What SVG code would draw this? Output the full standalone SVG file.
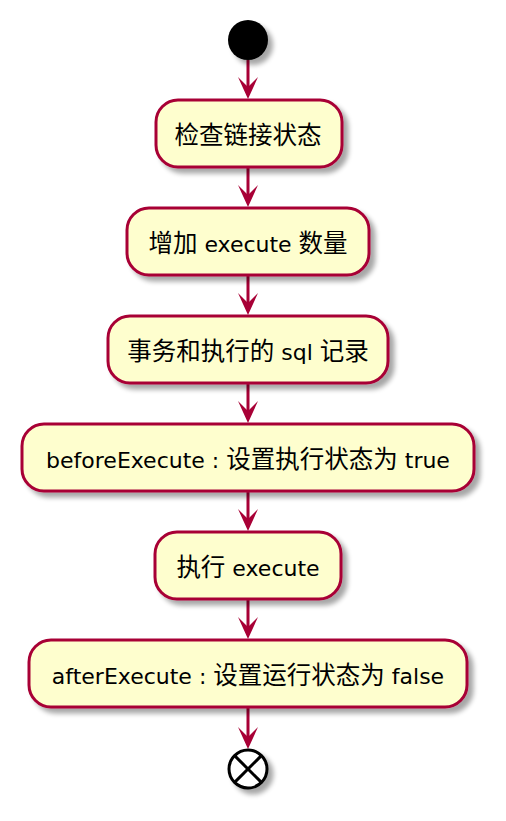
<svg xmlns="http://www.w3.org/2000/svg" width="506" height="821" viewBox="0 0 506 821">
<defs>
<filter id="sh" x="-20%" y="-20%" width="150%" height="160%">
<feGaussianBlur in="SourceAlpha" stdDeviation="2.5" result="b"/>
<feOffset in="b" dx="5" dy="5" result="o"/>
<feComponentTransfer in="o" result="s"><feFuncA type="linear" slope="0.35"/></feComponentTransfer>
<feMerge><feMergeNode in="s"/><feMergeNode in="SourceGraphic"/></feMerge>
</filter>
<polygon id="ah" points="-10,-22 0,0 10,-22 0,-12" fill="#A80036"/>
</defs>
<style>
.box{fill:#FEFECE;stroke:#A80036;stroke-width:3;filter:url(#sh)}
.t{font-family:"DejaVu Sans","Noto Sans CJK SC",sans-serif;font-size:22px;fill:#000;text-anchor:middle}
.c{font-family:"Noto Sans CJK SC",sans-serif;font-size:24.5px}
.ln{stroke:#A80036;stroke-width:3;fill:none}
</style>
<g id="connectors">
<line class="ln" x1="248" y1="60" x2="248" y2="90"/><use href="#ah" x="248" y="99"/>
<line class="ln" x1="248" y1="167" x2="248" y2="198"/><use href="#ah" x="248" y="207"/>
<line class="ln" x1="248" y1="275" x2="248" y2="306"/><use href="#ah" x="248" y="315"/>
<line class="ln" x1="248" y1="383" x2="248" y2="414"/><use href="#ah" x="248" y="423"/>
<line class="ln" x1="248" y1="491" x2="248" y2="522"/><use href="#ah" x="248" y="531"/>
<line class="ln" x1="248" y1="599" x2="248" y2="630"/><use href="#ah" x="248" y="639"/>
<line class="ln" x1="248" y1="707" x2="248" y2="740"/><use href="#ah" x="248" y="749"/>
</g>
<g id="start"><circle cx="248" cy="40" r="20" fill="#000" filter="url(#sh)"/></g>
<g id="n1"><rect class="box" x="156" y="100" width="186" height="67" rx="22"/>
<text class="t" x="248" y="143.5"><tspan class="c">检查链接状态</tspan></text></g>
<g id="n2"><rect class="box" x="127" y="208" width="242" height="67" rx="22"/>
<text class="t" x="248" y="251.5"><tspan class="c">增加</tspan> execute <tspan class="c">数量</tspan></text></g>
<g id="n3"><rect class="box" x="108" y="316" width="280" height="67" rx="22"/>
<text class="t" x="248" y="359.5"><tspan class="c">事务和执行的</tspan> sql <tspan class="c">记录</tspan></text></g>
<g id="n4"><rect class="box" x="22" y="424" width="452" height="67" rx="22"/>
<text class="t" x="248" y="467.5" xml:space="preserve">beforeExecute : <tspan class="c">设置执行状态为</tspan> true</text></g>
<g id="n5"><rect class="box" x="155" y="532" width="186" height="67" rx="22"/>
<text class="t" x="248" y="575.5"><tspan class="c">执行</tspan> execute</text></g>
<g id="n6"><rect class="box" x="29" y="640" width="438" height="67" rx="22"/>
<text class="t" x="248" y="683.5" xml:space="preserve">afterExecute : <tspan class="c">设置运行状态为</tspan> false</text></g>
<g id="end" filter="url(#sh)">
<circle cx="248" cy="769" r="19" fill="#fff" stroke="#000" stroke-width="3"/>
<line x1="234.6" y1="755.6" x2="261.4" y2="782.4" stroke="#000" stroke-width="3"/>
<line x1="261.4" y1="755.6" x2="234.6" y2="782.4" stroke="#000" stroke-width="3"/>
</g>
</svg>
